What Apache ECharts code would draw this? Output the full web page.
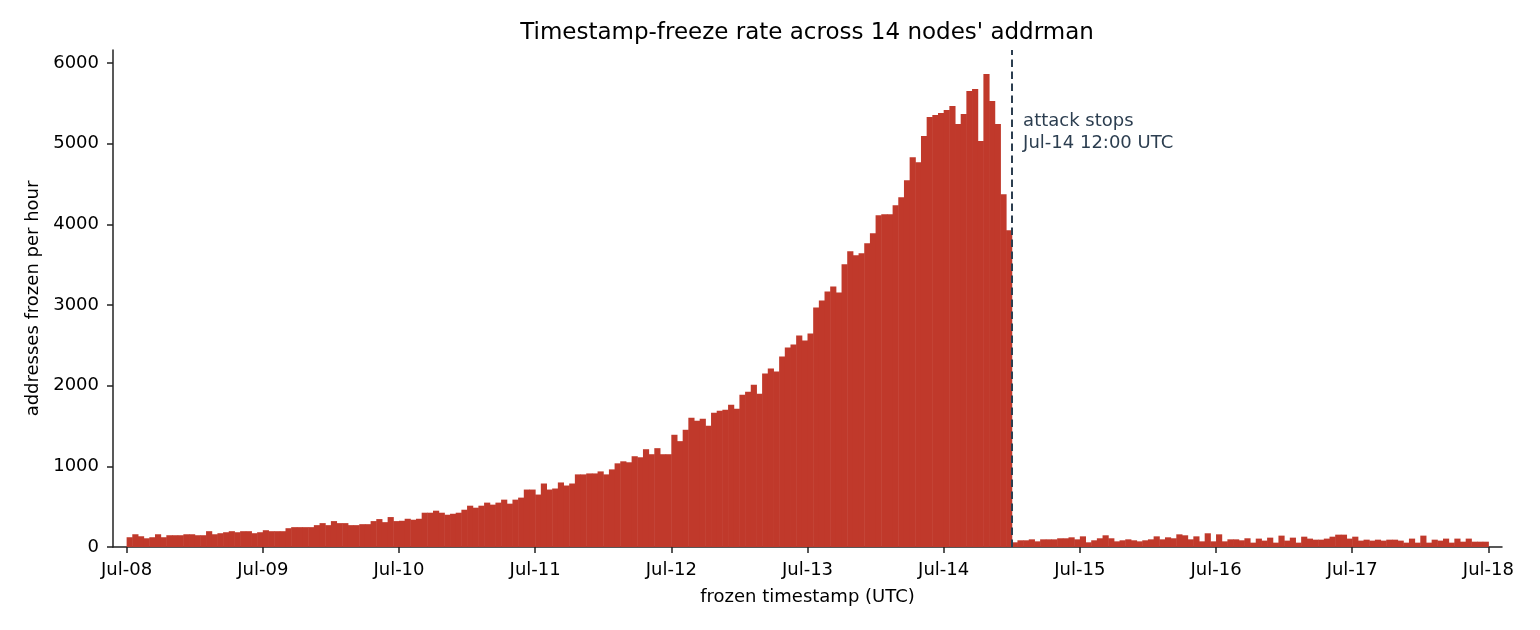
<!DOCTYPE html>
<html lang="en">
<head>
  <meta charset="UTF-8">
  <title>Timestamp-freeze rate</title>
  <script src="https://cdn.jsdelivr.net/npm/echarts@6/dist/echarts.min.js"></script>
  <style>
    html, body { margin: 0; padding: 0; background: #fff; }
    #main { width: 1540px; height: 630px; }
  </style>
</head>
<body>
<div id="main"></div>
<script>
  // day labels on the x axis (one per 24 h)
  var tickLabels = ['Jul-08', 'Jul-09', 'Jul-10', 'Jul-11', 'Jul-12', 'Jul-13',
    'Jul-14', 'Jul-15', 'Jul-16', 'Jul-17', 'Jul-18'];
  var yTicks = [0, 1000, 2000, 3000, 4000, 5000, 6000];

  // addresses frozen per hour, 24 hourly bins per day
  var jul08 = [121, 158, 133, 108, 121, 158, 121, 146, 146, 146, 158, 158,
    146, 146, 196, 158, 171, 183, 196, 183, 196, 196, 171, 183];
  var jul09 = [208, 196, 196, 196, 233, 246, 246, 246, 246, 271, 296, 271,
    321, 296, 296, 271, 271, 283, 283, 321, 346, 308, 371, 321];
  var jul10 = [325, 350, 338, 350, 425, 425, 450, 425, 400, 412, 425, 462,
    512, 487, 512, 550, 525, 550, 587, 537, 587, 612, 712, 712];
  var jul11 = [650, 787, 712, 725, 800, 762, 787, 900, 900, 912, 912, 937,
    900, 962, 1037, 1062, 1050, 1125, 1112, 1212, 1150, 1225, 1150, 1150];
  var jul12 = [1391, 1312, 1453, 1602, 1565, 1590, 1503, 1665, 1689, 1702, 1764, 1714,
    1888, 1925, 2012, 1900, 2149, 2211, 2174, 2360, 2472, 2509, 2621, 2559];
  var jul13 = [2646, 2969, 3056, 3168, 3230, 3155, 3503, 3665, 3615, 3640, 3764, 3888,
    4112, 4124, 4124, 4236, 4335, 4547, 4832, 4770, 5093, 5329, 5354, 5379];
  var jul14 = [5416, 5466, 5242, 5366, 5652, 5677, 5031, 5863, 5528, 5242, 4373, 3925,
    58, 83, 83, 95, 70, 95, 95, 95, 108, 108, 120, 95];
  var jul15 = [132, 58, 83, 108, 145, 108, 70, 83, 95, 83, 70, 83,
    95, 132, 95, 120, 108, 157, 145, 95, 132, 70, 170, 70];
  var jul16 = [157, 70, 95, 95, 83, 108, 54, 104, 79, 116, 54, 141,
    79, 116, 54, 128, 104, 91, 91, 104, 128, 153, 153, 104];
  var jul17 = [128, 79, 91, 79, 91, 79, 91, 91, 79, 54, 104, 54,
    141, 54, 91, 79, 104, 54, 104, 66, 104, 66, 66, 66];

  var attackStopHour = 6 * 24 + 12; // Jul-14 12:00 UTC
  var annotation = 'attack stops\nJul-14 12:00 UTC';

  var hourly = [].concat(jul08, jul09, jul10, jul11, jul12, jul13, jul14, jul15, jul16, jul17);
  var bins = hourly.map(function (v, i) { return [i, i + 1, v]; });
  var dayHours = tickLabels.map(function (d, i) { return i * 24; });

  var font = 'DejaVu Sans';
  var ink = '#222';
  var barColor = '#c0392b';

  var chart = echarts.init(document.getElementById('main'));

  chart.setOption({
    animation: false,
    title: {
      text: "Timestamp-freeze rate across 14 nodes' addrman",
      left: 807, top: 22, padding: 0, textAlign: 'center',
      textStyle: { fontFamily: font, fontSize: 23, fontWeight: 'normal', color: '#000' }
    },
    grid: { left: 113, right: 38, top: 50, bottom: 83, containLabel: false, outerBoundsMode: 'none' },
    xAxis: {
      type: 'value', min: -2.4, max: 242.4,
      name: 'frozen timestamp (UTC)', nameLocation: 'middle', nameGap: 41,
      nameMoveOverlap: false,
      nameTextStyle: { fontFamily: font, fontSize: 18, color: '#000' },
      axisLine: { onZero: false, lineStyle: { color: ink, width: 1.5 } },
      axisTick: { customValues: dayHours, length: 6, lineStyle: { color: ink, width: 1.5 } },
      axisLabel: {
        customValues: dayHours, margin: 14,
        fontFamily: font, fontSize: 18, color: '#000',
        formatter: function (v) { return tickLabels[Math.round(v / 24)]; }
      },
      splitLine: { show: false }
    },
    yAxis: {
      type: 'value', min: 0, max: 6160,
      name: 'addresses frozen per hour', nameLocation: 'middle', nameGap: 71,
      nameMoveOverlap: false,
      nameTextStyle: { fontFamily: font, fontSize: 18, color: '#000' },
      axisLine: { show: true, onZero: false, lineStyle: { color: ink, width: 1.5 } },
      axisTick: { show: true, customValues: yTicks, length: 6, lineStyle: { color: ink, width: 1.5 } },
      axisLabel: {
        customValues: yTicks, margin: 14, fontFamily: font, fontSize: 18, color: '#000',
        formatter: function (v) { return String(v); }
      },
      splitLine: { show: false }
    },
    series: [{
      type: 'custom',
      data: bins,
      encode: { x: [0, 1], y: 2 },
      renderItem: function (params, api) {
        var topLeft = api.coord([api.value(0), api.value(2)]);
        var bottomRight = api.coord([api.value(1), 0]);
        return {
          type: 'rect',
          shape: {
            x: topLeft[0], y: topLeft[1],
            width: bottomRight[0] - topLeft[0] + 0.5,
            height: bottomRight[1] - topLeft[1]
          },
          style: { fill: barColor }
        };
      },
      markLine: {
        silent: true, symbol: 'none',
        label: { show: false },
        lineStyle: { color: '#2c3e50', type: [7.5, 4.5], width: 2, opacity: 1 },
        data: [{ xAxis: attackStopHour }]
      },
      z: 2
    }, {
      type: 'scatter',
      data: [[attackStopHour + 2, 5143]],
      symbolSize: 0,
      silent: true,
      itemStyle: { opacity: 1 },
      label: {
        show: true, position: 'right', distance: 0, align: 'left', verticalAlign: 'middle',
        formatter: annotation, lineHeight: 22, textBorderWidth: 0,
        fontFamily: font, fontSize: 18, color: '#2c3e50', opacity: 1
      },
      z: 3
    }]
  });
</script>
</body>
</html>
